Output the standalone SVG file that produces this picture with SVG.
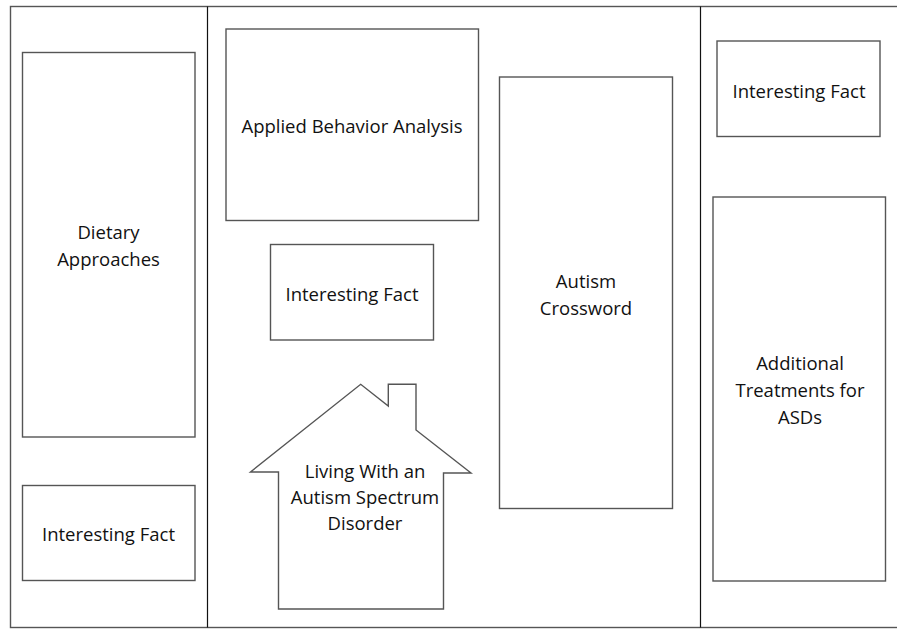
<svg xmlns="http://www.w3.org/2000/svg" width="897" height="630" viewBox="0 0 897 630">
<style>
.box{fill:#fff;stroke:#555;stroke-width:1.4}
.div{stroke:#111;stroke-width:1.2}
.t{font-family:"Open Sans","Liberation Sans",sans-serif;font-size:18.5px;fill:#111;text-anchor:middle}
</style>
<rect width="897" height="630" fill="#fff"/>
<g id="frame">
<rect x="10.5" y="6.5" width="895" height="621" fill="none" stroke="#555" stroke-width="1.4"/>
</g>
<g id="dividers">
<line class="div" x1="207.5" y1="6.5" x2="207.5" y2="627.5"/>
<line class="div" x1="700.5" y1="6.5" x2="700.5" y2="627.5"/>
</g>
<g id="dietary">
<rect class="box" x="22.5" y="52.5" width="172.5" height="384.5"/>
<text class="t" x="108.5" y="239">Dietary</text>
<text class="t" x="108.5" y="265.5">Approaches</text>
</g>
<g id="fact-left">
<rect class="box" x="22.5" y="485.5" width="172.5" height="95"/>
<text class="t" x="108.5" y="540.5">Interesting Fact</text>
</g>
<g id="aba">
<rect class="box" x="226" y="29" width="252.5" height="191.5"/>
<text class="t" x="352" y="133">Applied Behavior Analysis</text>
</g>
<g id="fact-middle">
<rect class="box" x="270.5" y="244.5" width="163" height="95.5"/>
<text class="t" x="352" y="301">Interesting Fact</text>
</g>
<g id="house">
<path class="box" d="M278.5,472 L250.5,472 L360.7,384.3 L388.3,406 L388.3,384.3 L416,384.3 L416,430 L471,473 L443.5,473 L443.5,609 L278.5,609 Z"/>
<text class="t" x="365" y="478">Living With an</text>
<text class="t" x="365" y="504">Autism Spectrum</text>
<text class="t" x="365" y="529.5">Disorder</text>
</g>
<g id="crossword">
<rect class="box" x="499.5" y="77" width="173" height="431.5"/>
<text class="t" x="586" y="288">Autism</text>
<text class="t" x="586" y="314.5">Crossword</text>
</g>
<g id="fact-right">
<rect class="box" x="717" y="41" width="163" height="95.5"/>
<text class="t" x="799" y="98">Interesting Fact</text>
</g>
<g id="additional">
<rect class="box" x="713" y="197" width="172.5" height="384"/>
<text class="t" x="800" y="370">Additional</text>
<text class="t" x="800" y="397">Treatments for</text>
<text class="t" x="800" y="423.5">ASDs</text>
</g>
</svg>
